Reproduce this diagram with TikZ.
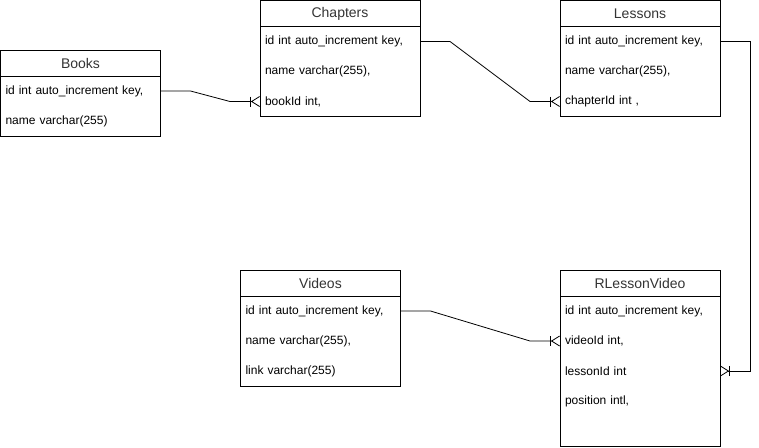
\documentclass[tikz,border=0pt]{standalone}
\usepackage{fontspec}
\setmainfont{Liberation Sans}
\usetikzlibrary{arrows.meta,positioning,calc}
\tikzset{
    tabletitle/.style={draw, anchor=north, minimum width=160pt, minimum height=26pt, inner sep=0pt, outer sep=0pt, text=black!80, font=\fontsize{14}{16}\selectfont},
    tablebody/.style={draw, minimum width=160pt, inner sep=0pt, outer sep=0pt},
    field/.style={minimum width=160pt, minimum height=30pt, text width=150pt, inner xsep=5pt, inner ysep=0pt, outer sep=0pt, align=left, font=\fontsize{12}{14}\selectfont},
    rel/.style={-{Bar[width=10pt] Straight Barb[reversed, length=8pt, width=10pt]}, draw=black},
}

\begin{document}
\begin{tikzpicture}[x=1pt, y=-1pt, line width=0.8pt]
\useasboundingbox (0,0) rectangle (759,447);
% Books
\node[tabletitle] (books) at (80.5,50) {Books};
\node[tablebody, minimum height=60pt, below=0pt of books] (books-body) {};
\node[field, below=0pt of books-body.north] (books-id) {id int auto\_increment key,};
\node[field, below=0pt of books-id] (books-name) {name varchar(255)};
% Chapters
\node[tabletitle] (chapters) at (340,0.5) {Chapters};
\node[tablebody, minimum height=90pt, below=0pt of chapters] (chapters-body) {};
\node[field, below=0pt of chapters-body.north] (chapters-id) {id int auto\_increment key,};
\node[field, below=0pt of chapters-id] (chapters-name) {name varchar(255),};
\node[field, below=0pt of chapters-name] (chapters-bookid) {bookId int,};
% Lessons
\node[tabletitle] (lessons) at (640,0.5) {Lessons};
\node[tablebody, minimum height=90pt, below=0pt of lessons] (lessons-body) {};
\node[field, below=0pt of lessons-body.north] (lessons-id) {id int auto\_increment key,};
\node[field, below=0pt of lessons-id] (lessons-name) {name varchar(255),};
\node[field, below=0pt of lessons-name] (lessons-chapterid) {chapterId int ,};
% Videos
\node[tabletitle] (videos) at (320.5,270) {Videos};
\node[tablebody, minimum height=90pt, below=0pt of videos] (videos-body) {};
\node[field, below=0pt of videos-body.north] (videos-id) {id int auto\_increment key,};
\node[field, below=0pt of videos-id] (videos-name) {name varchar(255),};
\node[field, below=0pt of videos-name] (videos-link) {link varchar(255)};
% RLessonVideo
\node[tabletitle] (rlv) at (640,270) {RLessonVideo};
\node[tablebody, minimum height=150pt, below=0pt of rlv] (rlv-body) {};
\node[field, below=0pt of rlv-body.north] (rlv-id) {id int auto\_increment key,};
\node[field, below=0pt of rlv-id] (rlv-videoid) {videoId int,};
\node[field, below=0pt of rlv-videoid] (rlv-lessonid) {lessonId int};
\node[field, below=0pt of rlv-lessonid] (rlv-position) {position intl,};

\draw[rel] (books-id.east) -- ++(30,0) -- ($(chapters-bookid.west)+(-30,0)$) -- (chapters-bookid.west);
\draw[rel] (chapters-id.east) -- ++(30,0) -- ($(lessons-chapterid.west)+(-30,0)$) -- (lessons-chapterid.west);
\draw[rel] (videos-id.east) -- ++(30,0) -- ($(rlv-videoid.west)+(-30,0)$) -- (rlv-videoid.west);
\draw[rel] (lessons-id.east) -- ++(30,0) |- (rlv-lessonid.east);
\end{tikzpicture}
\end{document}
